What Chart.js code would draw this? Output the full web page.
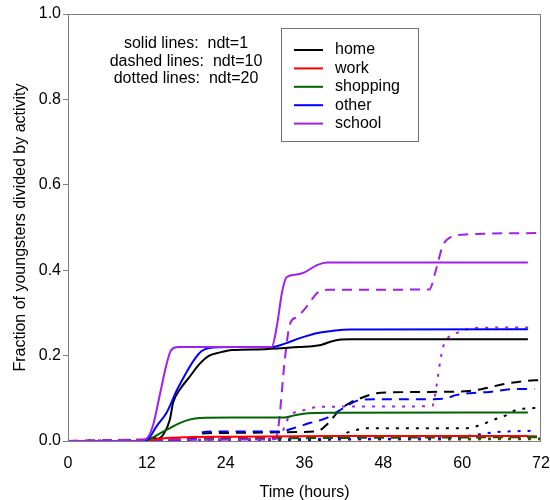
<!DOCTYPE html>
<html>
<head>
<meta charset="utf-8">
<script src="https://cdn.jsdelivr.net/npm/chart.js@4.4.1/dist/chart.umd.min.js"></script>
<style>
  body { margin: 0; background: #fff; }
  #wrap { width: 550px; height: 500px; }
</style>
</head>
<body>
<div id="wrap"><canvas id="chart" width="550" height="500"></canvas></div>
<script>
// Time (hours) / fraction pairs, one pair of arrays per curve

// ndt=1 (solid)
const homeT1   = [0, 12, 13, 13.6, 14.5, 15.5, 16, 17, 18.5, 20, 21.5, 23, 25, 30, 35, 38.5, 40.5, 43, 70];
const homeV1   = [0, 0, 0.008, 0.005, 0.015, 0.05, 0.09, 0.12, 0.15, 0.18, 0.2, 0.207, 0.213, 0.215, 0.22, 0.225, 0.235, 0.238, 0.238];
const workT1   = [0, 12, 13.5, 15, 18, 25, 40, 70];
const workV1   = [0, 0, 0.004, 0.007, 0.009, 0.01, 0.012, 0.012];
const shopT1   = [0, 11.5, 12.5, 14, 15.5, 17, 18.5, 20, 25, 33, 34.5, 36.5, 40, 70];
const shopV1   = [0, 0, 0.005, 0.018, 0.03, 0.042, 0.05, 0.054, 0.055, 0.055, 0.06, 0.065, 0.066, 0.067];
const otherT1  = [0, 11, 12.2, 13.5, 15, 16.6, 18, 19.2, 20.3, 21.5, 25, 31, 33, 35.3, 38, 40.3, 43, 70];
const otherV1  = [0, 0, 0.005, 0.035, 0.066, 0.12, 0.16, 0.19, 0.21, 0.218, 0.22, 0.22, 0.228, 0.241, 0.253, 0.258, 0.261, 0.262];
const schoolT1 = [0, 10.5, 12, 13, 14, 15, 15.7, 16.8, 20, 31, 31.8, 32.6, 33.3, 34.8, 36, 37.9, 39.5, 45, 70];
const schoolV1 = [0, 0, 0.006, 0.04, 0.11, 0.18, 0.213, 0.22, 0.22, 0.22, 0.27, 0.35, 0.384, 0.39, 0.395, 0.412, 0.418, 0.418, 0.418];

// ndt=10 (dashed)
const homeT10   = [0, 14, 19, 20, 25, 30, 35, 38, 39.5, 41.4, 43, 44.5, 47, 49.5, 55, 61, 63.7, 66.2, 69.3, 72];
const homeV10   = [0, 0, 0.005, 0.017, 0.019, 0.02, 0.021, 0.023, 0.04, 0.073, 0.09, 0.1, 0.112, 0.114, 0.115, 0.117, 0.124, 0.133, 0.14, 0.143];
const workT10   = [0, 14, 20, 40, 72];
const workV10   = [0, 0.004, 0.007, 0.009, 0.011];
const shopT10   = [0, 14, 20, 40, 72];
const shopV10   = [0, 0.002, 0.004, 0.007, 0.009];
const otherT10  = [0, 14, 19, 20, 22, 29, 32.3, 34.3, 36.8, 39.4, 41.9, 44.4, 47, 55.6, 57.5, 59.2, 61.2, 64.2, 67.3, 71];
const otherV10  = [0, 0, 0.005, 0.018, 0.022, 0.022, 0.022, 0.03, 0.042, 0.054, 0.077, 0.096, 0.098, 0.098, 0.1, 0.108, 0.112, 0.115, 0.121, 0.122];
const schoolT10 = [0, 12, 31.5, 32, 33, 33.8, 34.8, 36.3, 37.9, 39.4, 55, 56, 57, 58, 61, 72];
const schoolV10 = [0, 0.003, 0.004, 0.03, 0.19, 0.275, 0.29, 0.314, 0.346, 0.354, 0.355, 0.4, 0.455, 0.475, 0.484, 0.487];

// ndt=20 (dotted)
const homeT20   = [0, 38, 40, 41, 42.4, 44, 45, 60.7, 62.7, 64.7, 66.8, 68.3, 71.4, 72];
const homeV20   = [0, 0.002, 0.004, 0.007, 0.019, 0.026, 0.03, 0.03, 0.037, 0.049, 0.061, 0.073, 0.077, 0.077];
const workT20   = [0, 14, 30, 72];
const workV20   = [0, 0.002, 0.003, 0.004];
const shopT20   = [0, 14, 30, 72];
const shopV20   = [0, 0.002, 0.004, 0.006];
const otherT20  = [0, 14, 40, 55, 58, 59.7, 62.7, 65.3, 68.3, 71];
const otherV20  = [0, 0.002, 0.004, 0.006, 0.007, 0.009, 0.016, 0.021, 0.023, 0.024];
const schoolT20 = [0, 12, 14, 31.8, 32.6, 33.4, 34.3, 35.8, 38.4, 52, 55.5, 55.9, 56.3, 56.7, 57.1, 57.8, 59.2, 60.4, 62.5, 70.5];
const schoolV20 = [0, 0, 0.003, 0.004, 0.02, 0.05, 0.065, 0.072, 0.08, 0.081, 0.083, 0.11, 0.15, 0.19, 0.22, 0.241, 0.253, 0.26, 0.265, 0.266];

const activities = ['home', 'work', 'shopping', 'other', 'school'];
const notes = ['solid lines:  ndt=1', 'dashed lines:  ndt=10', 'dotted lines:  ndt=20'];
const xTicks = [0, 12, 24, 36, 48, 60, 72];

const colors = {
    home: '#000000',
    work: '#ff0000',
    shopping: '#006400',
    other: '#0000ff',
    school: '#a020f0'
};

const FONT = '"Liberation Sans", Arial, sans-serif';
const AXIS_GRAY = '#808080';

function pts(t, v) {
    return t.map((x, i) => ({ x: x, y: v[i] }));
}

function line(name, t, v, dash) {
    return {
        label: name,
        data: pts(t, v),
        borderColor: colors[name],
        borderWidth: 2,
        borderDash: dash,
        pointRadius: 0,
        fill: false,
        cubicInterpolationMode: 'monotone'
    };
}

const DASHED = [10, 7];
const DOTTED = [3, 7];

// first dataset ends up on top
const datasets = [
    line('school', schoolT1, schoolV1, []),
    line('other', otherT1, otherV1, []),
    line('shopping', shopT1, shopV1, []),
    line('work', workT1, workV1, []),
    line('home', homeT1, homeV1, []),
    line('school', schoolT10, schoolV10, DASHED),
    line('other', otherT10, otherV10, DASHED),
    line('shopping', shopT10, shopV10, DASHED),
    line('work', workT10, workV10, DASHED),
    line('home', homeT10, homeV10, DASHED),
    line('school', schoolT20, schoolV20, DOTTED),
    line('other', otherT20, otherV20, DOTTED),
    line('shopping', shopT20, shopV20, DOTTED),
    line('work', workT20, workV20, DOTTED),
    line('home', homeT20, homeV20, DOTTED)
];

// frame round the plot, the ndt notes and the boxed legend
const decorations = {
    id: 'decorations',
    afterDatasetsDraw(chart) {
        const ctx = chart.ctx;
        const a = chart.chartArea;
        ctx.save();

        ctx.strokeStyle = AXIS_GRAY;
        ctx.lineWidth = 1;
        ctx.strokeRect(Math.round(a.left) + 0.5, Math.round(a.top) + 0.5,
            Math.round(a.width) - 1, Math.round(a.height));

        ctx.fillStyle = '#000';
        ctx.font = '16px ' + FONT;
        ctx.textBaseline = 'middle';
        ctx.textAlign = 'center';
        notes.forEach((txt, i) => ctx.fillText(txt, 186, 44 + i * 17.5));

        ctx.strokeStyle = '#707070';
        ctx.strokeRect(281.5, 28.5, 137, 113);
        ctx.textAlign = 'left';
        activities.forEach((name, i) => {
            const y = 50 + i * 18.4;
            ctx.strokeStyle = colors[name];
            ctx.lineWidth = 2;
            ctx.beginPath();
            ctx.moveTo(294, y);
            ctx.lineTo(323, y);
            ctx.stroke();
            ctx.fillText(name, 335, y);
        });
        ctx.restore();
    }
};

new Chart(document.getElementById('chart'), {
    type: 'line',
    data: { datasets: datasets },
    plugins: [decorations],
    options: {
        responsive: false,
        animation: false,
        layout: { padding: { top: 14, right: 9, bottom: 0, left: 0 } },
        plugins: {
            legend: { display: false },
            tooltip: { enabled: false }
        },
        scales: {
            x: {
                type: 'linear',
                min: 0,
                max: 72,
                // fixed axis box so the plot area lands where the original is
                afterFit: function(scale) {
                    scale.height = 59;
                    scale.paddingLeft = 0;
                    scale.paddingRight = 0;
                },
                afterBuildTicks: function(scale) {
                    scale.ticks = xTicks.map(v => ({ value: v }));
                },
                border: { display: false },
                grid: { display: false, drawTicks: false },
                ticks: {
                    padding: 13,
                    color: '#000',
                    font: { family: FONT, size: 16 },
                    maxRotation: 0
                },
                title: {
                    display: true,
                    text: 'Time (hours)',
                    color: '#000',
                    font: { family: FONT, size: 16, lineHeight: 1 },
                    padding: { top: 0, bottom: -1 }
                }
            },
            y: {
                min: 0,
                max: 1,
                afterFit: function(scale) {
                    scale.width = 68;
                    scale.paddingTop = 0;
                    scale.paddingBottom = 0;
                },
                border: { display: false },
                grid: {
                    drawOnChartArea: false,
                    color: AXIS_GRAY,
                    tickLength: 5
                },
                ticks: {
                    stepSize: 0.2,
                    padding: 2,
                    color: '#000',
                    font: { family: FONT, size: 16 },
                    callback: v => v.toFixed(1)
                },
                title: {
                    display: true,
                    text: 'Fraction of youngsters divided by activity',
                    color: '#000',
                    font: { family: FONT, size: 16, lineHeight: 1 },
                    padding: { top: 13, bottom: 0 }
                }
            }
        }
    }
});
</script>
</body>
</html>
